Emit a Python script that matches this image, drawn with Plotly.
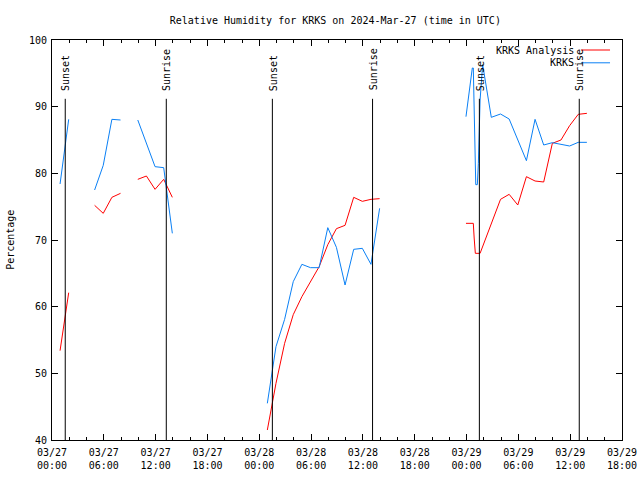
import plotly.graph_objects as go

# ---------------- data ----------------
obs_times = [
    "2024-03-27 00:56", "2024-03-27 01:56", None,
    "2024-03-27 04:56", "2024-03-27 05:56", "2024-03-27 06:56", "2024-03-27 07:56", None,
    "2024-03-27 09:56", "2024-03-27 10:56", "2024-03-27 11:56", "2024-03-27 12:56", "2024-03-27 13:56", None,
    "2024-03-28 00:56", "2024-03-28 01:56", "2024-03-28 02:56", "2024-03-28 03:56", "2024-03-28 04:56",
    "2024-03-28 05:56", "2024-03-28 06:56", "2024-03-28 07:56", "2024-03-28 08:56", "2024-03-28 09:56",
    "2024-03-28 10:56", "2024-03-28 11:56", "2024-03-28 12:56", "2024-03-28 13:56", None,
    "2024-03-28 23:56", "2024-03-29 00:40", "2024-03-29 00:47", "2024-03-29 01:04", "2024-03-29 01:15",
    "2024-03-29 01:22", "2024-03-29 01:34", "2024-03-29 01:52", "2024-03-29 02:52", "2024-03-29 03:56",
    "2024-03-29 04:56", "2024-03-29 05:56", "2024-03-29 06:56", "2024-03-29 07:56", "2024-03-29 08:56",
    "2024-03-29 09:56", "2024-03-29 10:56", "2024-03-29 11:56", "2024-03-29 12:56", "2024-03-29 13:56",
]
obs_values = [
    78.4, 88.1, None,
    77.5, 81.2, 88.1, 88.0, None,
    88.0, 84.5, 81.0, 80.85, 71.0, None,
    45.5, 54.0, 58.1, 63.75, 66.35, 65.85, 65.85, 71.85, 68.9, 63.25, 68.6, 68.75, 66.35, 74.75, None,
    88.5, 95.8, 95.8, 78.3, 78.3, 81.5, 91.0, 96.3, 88.4, 88.9,
    88.15, 85.0, 81.9, 88.1, 84.25, 84.6, 84.3, 84.1, 84.65, 84.65,
]

ana_times = [
    "2024-03-27 00:56", "2024-03-27 01:56", None,
    "2024-03-27 04:56", "2024-03-27 05:56", "2024-03-27 06:56", "2024-03-27 07:56", None,
    "2024-03-27 09:56", "2024-03-27 10:56", "2024-03-27 11:56", "2024-03-27 12:56", "2024-03-27 13:56", None,
    "2024-03-28 00:56", "2024-03-28 01:56", "2024-03-28 02:56", "2024-03-28 03:56", "2024-03-28 04:56",
    "2024-03-28 05:56", "2024-03-28 06:56", "2024-03-28 07:56", "2024-03-28 08:56", "2024-03-28 09:56",
    "2024-03-28 10:56", "2024-03-28 11:56", "2024-03-28 12:56", "2024-03-28 13:56", None,
    "2024-03-28 23:56", "2024-03-29 00:47", "2024-03-29 00:53", "2024-03-29 01:01", "2024-03-29 01:34",
    "2024-03-29 03:56", "2024-03-29 04:56", "2024-03-29 05:56", "2024-03-29 06:56", "2024-03-29 07:56",
    "2024-03-29 08:56", "2024-03-29 09:56", "2024-03-29 10:56", "2024-03-29 11:56", "2024-03-29 12:56",
    "2024-03-29 13:56",
]
ana_values = [
    53.4, 62.1, None,
    75.2, 74.0, 76.4, 77.0, None,
    79.1, 79.6, 77.6, 79.1, 76.4, None,
    41.5, 48.5, 54.5, 58.8, 61.5, 63.8, 66.0, 69.3, 71.7, 72.2, 76.4, 75.8, 76.1, 76.2, None,
    72.5, 72.5, 70.3, 68.0, 68.0,
    76.1, 76.85, 75.25, 79.5, 78.85, 78.7, 84.5, 85.0, 87.15, 88.85, 89.0,
]

sun_times = ["2024-03-27 01:32", "2024-03-27 13:14", "2024-03-28 01:31",
             "2024-03-28 13:07", "2024-03-29 01:29", "2024-03-29 13:03"]
sun_labels = ["Sunset", "Sunrise", "Sunset", "Sunrise", "Sunset", "Sunrise"]

series_names = ["KRKS Analysis", "KRKS"]
series_colors = ["#ff0000", "#0a80f5"]

title_text = "Relative Humidity for KRKS on 2024-Mar-27 (time in UTC)"
y_title = "Percentage"

# ---------------- figure ----------------
FONT = "DejaVu Sans Mono"
fig = go.Figure()
fig.add_trace(go.Scatter(x=ana_times, y=ana_values, mode="lines", name=series_names[0],
                         line=dict(color=series_colors[0], width=1), connectgaps=False,
                         hoverinfo="skip", showlegend=False))
fig.add_trace(go.Scatter(x=obs_times, y=obs_values, mode="lines", name=series_names[1],
                         line=dict(color=series_colors[1], width=1), connectgaps=False,
                         hoverinfo="skip", showlegend=False))

shapes = []
annotations = []
for t, lab in zip(sun_times, sun_labels):
    shapes.append(dict(type="line", xref="x", yref="paper", x0=t, x1=t, y0=0, y1=0.853,
                       line=dict(color="black", width=1), layer="above"))
    annotations.append(dict(x=t, y=0.868, xref="x", yref="paper", text=lab, textangle=-90,
                            showarrow=False, xanchor="center", yanchor="bottom", xshift=1,
                            font=dict(family=FONT, size=10, color="black")))

# legend (gnuplot style: text then sample line)
leg_y = [0.975, 0.943]
for name, col, yy in zip(series_names, series_colors, leg_y):
    annotations.append(dict(x=0.92, y=yy, xref="paper", yref="paper", text=name,
                            showarrow=False, xanchor="right", yanchor="middle",
                            font=dict(family=FONT, size=10, color="black")))
    shapes.append(dict(type="line", xref="paper", yref="paper", x0=0.928, x1=0.979,
                       y0=yy, y1=yy, line=dict(color=col, width=1)))

annotations.append(dict(x=-0.074, y=0.5, xref="paper", yref="paper", text=y_title,
                        textangle=-90, showarrow=False, xanchor="center", yanchor="middle",
                        font=dict(family=FONT, size=10, color="black")))

fig.update_layout(
    width=640, height=480,
    margin=dict(l=52, r=18, t=40, b=40, autoexpand=False),
    paper_bgcolor="white", plot_bgcolor="white",
    title=dict(text=title_text, x=0.524, xanchor="center", y=0.958, yanchor="middle",
               font=dict(family=FONT, size=10, color="black")),
    shapes=shapes, annotations=annotations,
    showlegend=False,
    xaxis=dict(type="date", range=["2024-03-27 00:00", "2024-03-29 18:00"],
               tick0="2024-03-27 00:00", dtick=6 * 3600 * 1000, tickformat="%m/%d<br>%H:%M",
               ticks="inside", ticklen=6, tickcolor="black", tickwidth=1,
               showline=True, linecolor="black", linewidth=1, mirror="allticks",
               showgrid=False, zeroline=False, automargin=False, ticklabelstandoff=3,
               minor=dict(dtick=2 * 3600 * 1000, ticks="inside", ticklen=3,
                          tickcolor="black", showgrid=False),
               tickfont=dict(family=FONT, size=10, color="black")),
    yaxis=dict(range=[40, 100], dtick=10, tick0=40,
               ticks="inside", ticklen=6, tickcolor="black", tickwidth=1,
               showline=True, linecolor="black", linewidth=1, mirror="allticks",
               showgrid=False, zeroline=False, automargin=False, ticklabelstandoff=2,
               tickfont=dict(family=FONT, size=10, color="black")),
)

fig.write_html("out.html", config={"displayModeBar": False, "staticPlot": True},
               post_script="document.body.style.margin='0px';document.body.style.overflow='hidden';")
